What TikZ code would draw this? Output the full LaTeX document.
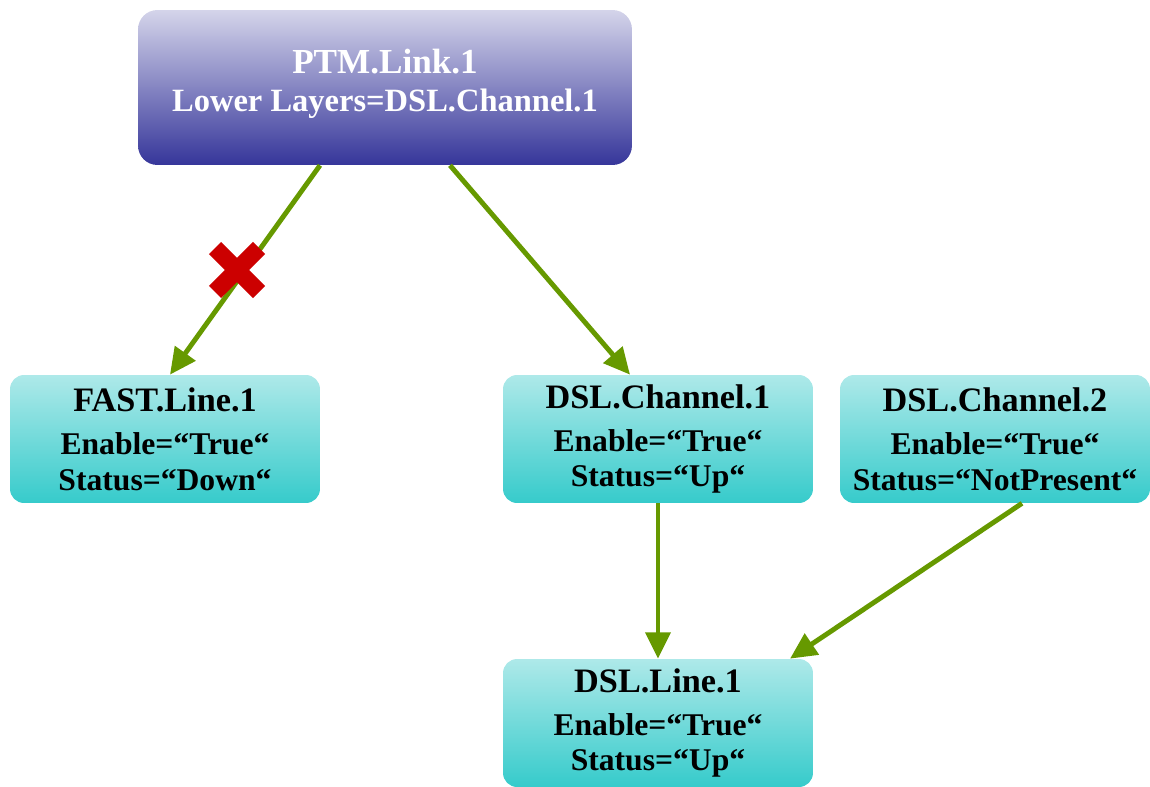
\documentclass[tikz,border=0pt]{standalone}
\usepackage{fontspec}
\setmainfont{Liberation Serif}
\usetikzlibrary{arrows.meta,calc}

\definecolor{linkgreen}{HTML}{669900}
\definecolor{ptmtop}{HTML}{D4D4EA}
\definecolor{ptmbottom}{HTML}{36369A}
\definecolor{boxtop}{HTML}{AEE9E9}
\definecolor{boxbottom}{HTML}{36CBCB}
\definecolor{cutred}{HTML}{CC0000}

\tikzset{
  ptmbox/.style={rounded corners=11pt, top color=ptmtop, bottom color=ptmbottom,
    text=white, font=\bfseries\fontsize{18.5}{21.6}\selectfont, align=center,
    minimum width=9.88cm, minimum height=3.1cm, inner sep=0pt, text depth=8.5pt},
  layerbox/.style={rounded corners=8pt, top color=boxtop, bottom color=boxbottom,
    font=\bfseries\fontsize{18}{20}\selectfont, align=center,
    minimum width=6.2cm, minimum height=2.56cm, inner sep=0pt},
  link/.style={linkgreen, line width=2.8pt, -{Triangle[length=15pt,width=14pt]}},
}

\begin{document}
\begin{tikzpicture}[x=0.02cm, y=-0.02cm]
    \useasboundingbox (0,0) rectangle (1150,787);

    % ===== PTM LINK =====
    \node[ptmbox] (ptm) at (385,87.5)
        {{\fontsize{20}{21.6}\selectfont PTM.Link.1}\\
         Lower Layers=DSL.Channel.1};

    % ===== LOWER LAYERS =====
    \def\yRow{439}

    \node[layerbox] (fast) at (165,\yRow)
        {{\fontsize{19.5}{20}\selectfont FAST.Line.1}\\[4.9pt]
         Enable=“True“\\ Status=“Down“};
    \node[layerbox] (chone) at (658,\yRow)
        {{\fontsize{19.5}{20}\selectfont DSL.Channel.1}\\[4.9pt]
         Enable=“True“\\ Status=“Up“};
    \node[layerbox] (chtwo) at (995,\yRow)
        {{\fontsize{19.5}{20}\selectfont DSL.Channel.2}\\[4.9pt]
         Enable=“True“\\ Status=“NotPresent“};

    \node[layerbox] (dslline) at (658,723)
        {{\fontsize{19.5}{20}\selectfont DSL.Line.1}\\[4.9pt]
         Enable=“True“\\ Status=“Up“};

    % links
    \draw[link] ($(ptm.south)+(-65,0)$) -- ($(fast.north)+(5,0)$);
    \draw[link] ($(ptm.south)+(65,0)$) -- ($(chone.north)+(-28,0)$);
    \draw[link] (chone.south) -- (dslline.north);
    \draw[link] ($(chtwo.south)+(27,0)$) -- ($(dslline.north)+(132,0)$);

    % broken link
    \coordinate (cut) at (237,270);
    \draw[cutred, line width=9.7pt]
        ($(cut)+(-22,-22)$) -- ($(cut)+(22,22)$)
        ($(cut)+(-22,22)$) -- ($(cut)+(22,-22)$);
\end{tikzpicture}
\end{document}
